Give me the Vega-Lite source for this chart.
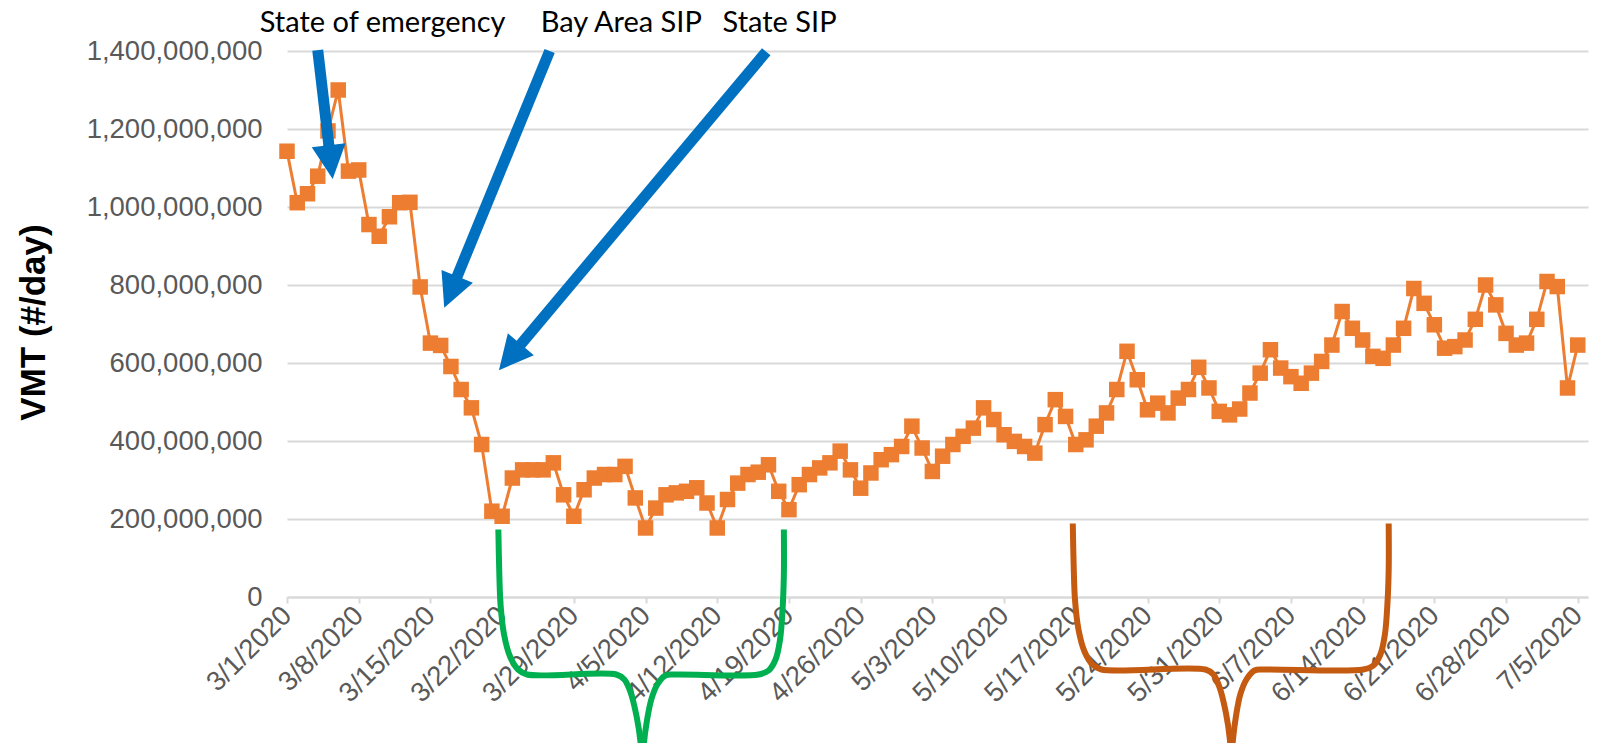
{
  "$schema": "https://vega.github.io/schema/vega-lite/v6.json",
  "autosize": {"type": "none"},
  "width": 1301,
  "height": 546,
  "padding": {"left": 287, "top": 51, "right": 25, "bottom": 146},
  "background": "white",
  "config": {"view": {"stroke": null}},
  "datasets": {
    "vmt": [
      {"date": "2020-03-01T00:00", "vmt": 1143000000},
      {"date": "2020-03-02T00:00", "vmt": 1011000000},
      {"date": "2020-03-03T00:00", "vmt": 1034000000},
      {"date": "2020-03-04T00:00", "vmt": 1079000000},
      {"date": "2020-03-05T00:00", "vmt": 1195000000},
      {"date": "2020-03-06T00:00", "vmt": 1300000000},
      {"date": "2020-03-07T00:00", "vmt": 1092000000},
      {"date": "2020-03-08T00:00", "vmt": 1095000000},
      {"date": "2020-03-09T00:00", "vmt": 955000000},
      {"date": "2020-03-10T00:00", "vmt": 925000000},
      {"date": "2020-03-11T00:00", "vmt": 975000000},
      {"date": "2020-03-12T00:00", "vmt": 1011000000},
      {"date": "2020-03-13T00:00", "vmt": 1012000000},
      {"date": "2020-03-14T00:00", "vmt": 795000000},
      {"date": "2020-03-15T00:00", "vmt": 651000000},
      {"date": "2020-03-16T00:00", "vmt": 645000000},
      {"date": "2020-03-17T00:00", "vmt": 591000000},
      {"date": "2020-03-18T00:00", "vmt": 532000000},
      {"date": "2020-03-19T00:00", "vmt": 485000000},
      {"date": "2020-03-20T00:00", "vmt": 391000000},
      {"date": "2020-03-21T00:00", "vmt": 220000000},
      {"date": "2020-03-22T00:00", "vmt": 207000000},
      {"date": "2020-03-23T00:00", "vmt": 305000000},
      {"date": "2020-03-24T00:00", "vmt": 326000000},
      {"date": "2020-03-25T00:00", "vmt": 326000000},
      {"date": "2020-03-26T00:00", "vmt": 326000000},
      {"date": "2020-03-27T00:00", "vmt": 344000000},
      {"date": "2020-03-28T00:00", "vmt": 262000000},
      {"date": "2020-03-29T00:00", "vmt": 207000000},
      {"date": "2020-03-30T00:00", "vmt": 275000000},
      {"date": "2020-03-31T00:00", "vmt": 305000000},
      {"date": "2020-04-01T00:00", "vmt": 314000000},
      {"date": "2020-04-02T00:00", "vmt": 314000000},
      {"date": "2020-04-03T00:00", "vmt": 335000000},
      {"date": "2020-04-04T00:00", "vmt": 254000000},
      {"date": "2020-04-05T00:00", "vmt": 177000000},
      {"date": "2020-04-06T00:00", "vmt": 228000000},
      {"date": "2020-04-07T00:00", "vmt": 262000000},
      {"date": "2020-04-08T00:00", "vmt": 267000000},
      {"date": "2020-04-09T00:00", "vmt": 271000000},
      {"date": "2020-04-10T00:00", "vmt": 280000000},
      {"date": "2020-04-11T00:00", "vmt": 241000000},
      {"date": "2020-04-12T00:00", "vmt": 177000000},
      {"date": "2020-04-13T00:00", "vmt": 250000000},
      {"date": "2020-04-14T00:00", "vmt": 292000000},
      {"date": "2020-04-15T00:00", "vmt": 314000000},
      {"date": "2020-04-16T00:00", "vmt": 320000000},
      {"date": "2020-04-17T00:00", "vmt": 339000000},
      {"date": "2020-04-18T00:00", "vmt": 271000000},
      {"date": "2020-04-19T00:00", "vmt": 224000000},
      {"date": "2020-04-20T00:00", "vmt": 288000000},
      {"date": "2020-04-21T00:00", "vmt": 314000000},
      {"date": "2020-04-22T00:00", "vmt": 331000000},
      {"date": "2020-04-23T00:00", "vmt": 344000000},
      {"date": "2020-04-24T00:00", "vmt": 374000000},
      {"date": "2020-04-25T00:00", "vmt": 326000000},
      {"date": "2020-04-26T00:00", "vmt": 279000000},
      {"date": "2020-04-27T00:00", "vmt": 318000000},
      {"date": "2020-04-28T00:00", "vmt": 352000000},
      {"date": "2020-04-29T00:00", "vmt": 365000000},
      {"date": "2020-04-30T00:00", "vmt": 386000000},
      {"date": "2020-05-01T00:00", "vmt": 438000000},
      {"date": "2020-05-02T00:00", "vmt": 382000000},
      {"date": "2020-05-03T00:00", "vmt": 322000000},
      {"date": "2020-05-04T00:00", "vmt": 361000000},
      {"date": "2020-05-05T00:00", "vmt": 391000000},
      {"date": "2020-05-06T00:00", "vmt": 412000000},
      {"date": "2020-05-07T00:00", "vmt": 433000000},
      {"date": "2020-05-08T00:00", "vmt": 485000000},
      {"date": "2020-05-09T00:00", "vmt": 455000000},
      {"date": "2020-05-10T00:00", "vmt": 416000000},
      {"date": "2020-05-11T00:00", "vmt": 399000000},
      {"date": "2020-05-12T00:00", "vmt": 386000000},
      {"date": "2020-05-13T00:00", "vmt": 369000000},
      {"date": "2020-05-14T00:00", "vmt": 442000000},
      {"date": "2020-05-15T00:00", "vmt": 506000000},
      {"date": "2020-05-16T00:00", "vmt": 463000000},
      {"date": "2020-05-17T00:00", "vmt": 391000000},
      {"date": "2020-05-18T00:00", "vmt": 403000000},
      {"date": "2020-05-19T00:00", "vmt": 438000000},
      {"date": "2020-05-20T00:00", "vmt": 472000000},
      {"date": "2020-05-21T00:00", "vmt": 532000000},
      {"date": "2020-05-22T00:00", "vmt": 630000000},
      {"date": "2020-05-23T00:00", "vmt": 557000000},
      {"date": "2020-05-24T00:00", "vmt": 480000000},
      {"date": "2020-05-25T00:00", "vmt": 497000000},
      {"date": "2020-05-26T00:00", "vmt": 472000000},
      {"date": "2020-05-27T00:00", "vmt": 510000000},
      {"date": "2020-05-28T00:00", "vmt": 532000000},
      {"date": "2020-05-29T00:00", "vmt": 589000000},
      {"date": "2020-05-30T00:00", "vmt": 536000000},
      {"date": "2020-05-31T00:00", "vmt": 476000000},
      {"date": "2020-06-01T00:00", "vmt": 467000000},
      {"date": "2020-06-02T00:00", "vmt": 482000000},
      {"date": "2020-06-03T00:00", "vmt": 523000000},
      {"date": "2020-06-04T00:00", "vmt": 574000000},
      {"date": "2020-06-05T00:00", "vmt": 634000000},
      {"date": "2020-06-06T00:00", "vmt": 587000000},
      {"date": "2020-06-07T00:00", "vmt": 565000000},
      {"date": "2020-06-08T00:00", "vmt": 548000000},
      {"date": "2020-06-09T00:00", "vmt": 574000000},
      {"date": "2020-06-10T00:00", "vmt": 604000000},
      {"date": "2020-06-11T00:00", "vmt": 646000000},
      {"date": "2020-06-12T00:00", "vmt": 732000000},
      {"date": "2020-06-13T00:00", "vmt": 689000000},
      {"date": "2020-06-14T00:00", "vmt": 659000000},
      {"date": "2020-06-15T00:00", "vmt": 617000000},
      {"date": "2020-06-16T00:00", "vmt": 612000000},
      {"date": "2020-06-17T00:00", "vmt": 646000000},
      {"date": "2020-06-18T00:00", "vmt": 689000000},
      {"date": "2020-06-19T00:00", "vmt": 791000000},
      {"date": "2020-06-20T00:00", "vmt": 753000000},
      {"date": "2020-06-21T00:00", "vmt": 698000000},
      {"date": "2020-06-22T00:00", "vmt": 638000000},
      {"date": "2020-06-23T00:00", "vmt": 642000000},
      {"date": "2020-06-24T00:00", "vmt": 659000000},
      {"date": "2020-06-25T00:00", "vmt": 712000000},
      {"date": "2020-06-26T00:00", "vmt": 800000000},
      {"date": "2020-06-27T00:00", "vmt": 749000000},
      {"date": "2020-06-28T00:00", "vmt": 676000000},
      {"date": "2020-06-29T00:00", "vmt": 646000000},
      {"date": "2020-06-30T00:00", "vmt": 651000000},
      {"date": "2020-07-01T00:00", "vmt": 712000000},
      {"date": "2020-07-02T00:00", "vmt": 809000000},
      {"date": "2020-07-03T00:00", "vmt": 796000000},
      {"date": "2020-07-04T00:00", "vmt": 536000000},
      {"date": "2020-07-05T00:00", "vmt": 646000000}
    ],
    "braces": [
      {"brace": "green", "i": 1, "date": "2020-03-21T15:07", "vmt": 173100000},
      {"brace": "green", "i": 2, "date": "2020-03-21T17:28", "vmt": 57700000},
      {"brace": "green", "i": 3, "date": "2020-03-21T20:17", "vmt": -19200000},
      {"brace": "green", "i": 4, "date": "2020-03-22T04:29", "vmt": -96200000},
      {"brace": "green", "i": 5, "date": "2020-03-22T18:32", "vmt": -152600000},
      {"brace": "green", "i": 6, "date": "2020-03-23T13:16", "vmt": -185900000},
      {"brace": "green", "i": 7, "date": "2020-03-24T10:21", "vmt": -198700000},
      {"brace": "green", "i": 8, "date": "2020-04-02T03:30", "vmt": -198700000},
      {"brace": "green", "i": 9, "date": "2020-04-02T22:15", "vmt": -211500000},
      {"brace": "green", "i": 10, "date": "2020-04-03T12:19", "vmt": -242300000},
      {"brace": "green", "i": 11, "date": "2020-04-04T03:32", "vmt": -308900000},
      {"brace": "green", "i": 12, "date": "2020-04-04T12:53", "vmt": -378200000},
      {"brace": "green", "i": 13, "date": "2020-04-04T16:23", "vmt": -447400000},
      {"brace": "green2", "i": 1, "date": "2020-04-04T16:23", "vmt": -447400000},
      {"brace": "green2", "i": 2, "date": "2020-04-04T19:55", "vmt": -378200000},
      {"brace": "green2", "i": 3, "date": "2020-04-05T02:57", "vmt": -319200000},
      {"brace": "green2", "i": 4, "date": "2020-04-05T13:29", "vmt": -262800000},
      {"brace": "green2", "i": 5, "date": "2020-04-06T03:32", "vmt": -224400000},
      {"brace": "green2", "i": 6, "date": "2020-04-06T22:16", "vmt": -201300000},
      {"brace": "green2", "i": 7, "date": "2020-04-07T21:42", "vmt": -198700000},
      {"brace": "green2", "i": 8, "date": "2020-04-16T00:47", "vmt": -198700000},
      {"brace": "green2", "i": 9, "date": "2020-04-17T00:13", "vmt": -188500000},
      {"brace": "green2", "i": 10, "date": "2020-04-17T16:37", "vmt": -160300000},
      {"brace": "green2", "i": 11, "date": "2020-04-18T03:08", "vmt": -109000000},
      {"brace": "green2", "i": 12, "date": "2020-04-18T09:00", "vmt": -32100000},
      {"brace": "green2", "i": 13, "date": "2020-04-18T12:03", "vmt": 57700000},
      {"brace": "green2", "i": 14, "date": "2020-04-18T12:03", "vmt": 173100000},
      {"brace": "brown", "i": 1, "date": "2020-05-16T16:55", "vmt": 188500000},
      {"brace": "brown", "i": 2, "date": "2020-05-16T19:16", "vmt": 70500000},
      {"brace": "brown", "i": 3, "date": "2020-05-16T22:05", "vmt": -6400000},
      {"brace": "brown", "i": 4, "date": "2020-05-17T06:17", "vmt": -83300000},
      {"brace": "brown", "i": 5, "date": "2020-05-17T20:20", "vmt": -139700000},
      {"brace": "brown", "i": 6, "date": "2020-05-18T15:04", "vmt": -173100000},
      {"brace": "brown", "i": 7, "date": "2020-05-19T12:08", "vmt": -185900000},
      {"brace": "brown", "i": 8, "date": "2020-05-29T15:44", "vmt": -185900000},
      {"brace": "brown", "i": 9, "date": "2020-05-30T10:28", "vmt": -198700000},
      {"brace": "brown", "i": 10, "date": "2020-05-31T00:32", "vmt": -230800000},
      {"brace": "brown", "i": 11, "date": "2020-05-31T15:44", "vmt": -297500000},
      {"brace": "brown", "i": 12, "date": "2020-06-01T01:06", "vmt": -366700000},
      {"brace": "brown", "i": 13, "date": "2020-06-01T04:38", "vmt": -435900000},
      {"brace": "brown2", "i": 1, "date": "2020-06-01T04:38", "vmt": -435900000},
      {"brace": "brown2", "i": 2, "date": "2020-06-01T08:08", "vmt": -366700000},
      {"brace": "brown2", "i": 3, "date": "2020-06-01T15:10", "vmt": -306400000},
      {"brace": "brown2", "i": 4, "date": "2020-06-02T01:42", "vmt": -248700000},
      {"brace": "brown2", "i": 5, "date": "2020-06-02T15:46", "vmt": -211500000},
      {"brace": "brown2", "i": 6, "date": "2020-06-03T10:29", "vmt": -188500000},
      {"brace": "brown2", "i": 7, "date": "2020-06-04T09:55", "vmt": -185900000},
      {"brace": "brown2", "i": 8, "date": "2020-06-14T01:48", "vmt": -185900000},
      {"brace": "brown2", "i": 9, "date": "2020-06-15T01:13", "vmt": -175600000},
      {"brace": "brown2", "i": 10, "date": "2020-06-15T17:37", "vmt": -147400000},
      {"brace": "brown2", "i": 11, "date": "2020-06-16T04:09", "vmt": -96200000},
      {"brace": "brown2", "i": 12, "date": "2020-06-16T10:01", "vmt": -19200000},
      {"brace": "brown2", "i": 13, "date": "2020-06-16T13:03", "vmt": 70500000},
      {"brace": "brown2", "i": 14, "date": "2020-06-16T13:03", "vmt": 188500000}
    ],
    "arrows": [
      {"event": "State of emergency", "date": "2020-03-04T00:00", "vmt": 1402000000, "date2": "2020-03-05T05:31", "vmt2": 1126600000},
      {"event": "Bay Area SIP", "date": "2020-03-26T15:22", "vmt": 1400000000, "date2": "2020-03-17T02:10", "vmt2": 789000000},
      {"event": "State SIP", "date": "2020-04-16T18:43", "vmt": 1398000000, "date2": "2020-03-22T22:48", "vmt2": 620700000}
    ],
    "heads": [
      {"event": "State of emergency", "date": "2020-03-05T11:02", "vmt": 1072000000, "angle": 173.2},
      {"event": "Bay Area SIP", "date": "2020-03-16T08:24", "vmt": 741500000, "angle": 202.4},
      {"event": "State SIP", "date": "2020-03-21T16:34", "vmt": 581500000, "angle": 220.1}
    ],
    "labels": [
      {"label": "State of emergency", "date": "2020-02-27T08:10", "vmt": 1450000000},
      {"label": "Bay Area SIP", "date": "2020-03-25T18:14", "vmt": 1450000000},
      {"label": "State SIP", "date": "2020-04-12T12:29", "vmt": 1450000000}
    ]
  },
  "encoding": {
    "x": {
      "field": "date",
      "type": "temporal",
      "scale": {"domain": [{"year": 2020, "month": 3, "date": 1}, {"year": 2020, "month": 7, "date": 6}], "nice": false},
      "axis": {
        "title": null,
        "format": "%-m/%-d/%Y",
        "tickCount": {"interval": "week", "step": 1},
        "grid": false,
        "labelAngle": -45,
        "labelAlign": "right",
        "labelBaseline": "middle",
        "labelFont": "Liberation Sans",
        "labelFontSize": 27.5,
        "labelColor": "#595959",
        "labelPadding": 8,
        "labelOverlap": false,
        "labelBound": false,
        "labelFlush": false,
        "domainColor": "#D9D9D9",
        "domainWidth": 2,
        "tickColor": "#D9D9D9",
        "tickWidth": 2,
        "tickSize": 6
      }
    },
    "y": {
      "field": "vmt",
      "type": "quantitative",
      "scale": {"domain": [0, 1400000000], "nice": false, "zero": false},
      "axis": {
        "title": "VMT (#/day)",
        "titleFont": "Liberation Sans",
        "titleFontSize": 35,
        "titleFontWeight": "bold",
        "titleColor": "#000000",
        "titleAngle": -90,
        "titleX": -254,
        "titleY": 271,
        "titleAlign": "center",
        "titleBaseline": "middle",
        "values": [0, 200000000, 400000000, 600000000, 800000000, 1000000000, 1200000000, 1400000000],
        "format": ",d",
        "labelFont": "Liberation Sans",
        "labelFontSize": 27.5,
        "labelColor": "#595959",
        "labelPadding": 25,
        "ticks": false,
        "domain": false,
        "grid": true,
        "gridColor": "#D9D9D9",
        "gridWidth": 2
      }
    }
  },
  "layer": [
    {
      "data": {"name": "vmt"},
      "mark": {"type": "line", "color": "#ED7D31", "strokeWidth": 3,
        "point": {"shape": "square", "size": 240, "filled": true, "color": "#ED7D31", "opacity": 1}}
    },
    {
      "data": {"name": "braces"},
      "mark": {"type": "line", "strokeWidth": 6, "interpolate": "catmull-rom", "clip": false},
      "encoding": {
        "color": {"field": "brace", "type": "nominal",
          "scale": {"domain": ["green", "green2", "brown", "brown2"], "range": ["#00B050", "#00B050", "#C55A11", "#C55A11"]},
          "legend": null},
        "order": {"field": "i", "type": "quantitative"}
      }
    },
    {
      "data": {"name": "arrows"},
      "mark": {"type": "rule", "color": "#0070C0", "strokeWidth": 11, "strokeCap": "butt"},
      "encoding": {
        "x2": {"field": "date2"},
        "y2": {"field": "vmt2"}
      }
    },
    {
      "data": {"name": "heads"},
      "mark": {"type": "point", "shape": "M0,0L-1,2L1,2Z", "size": 1156, "filled": true, "color": "#0070C0", "opacity": 1},
      "encoding": {
        "angle": {"field": "angle", "type": "quantitative", "scale": null}
      }
    },
    {
      "data": {"name": "labels"},
      "mark": {"type": "text", "align": "left", "baseline": "alphabetic", "font": "Lato", "fontSize": 29, "color": "#000000"},
      "encoding": {
        "text": {"field": "label"}
      }
    }
  ]
}
